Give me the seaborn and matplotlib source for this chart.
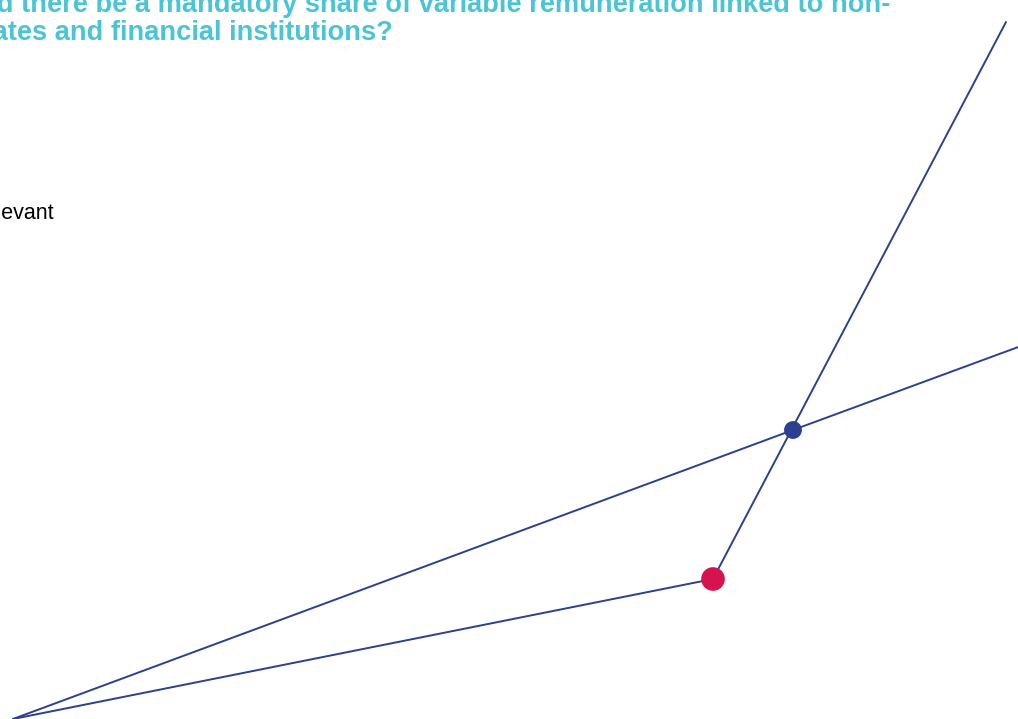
import matplotlib
matplotlib.use("Agg")
import matplotlib.pyplot as plt
import seaborn as sns
import pandas as pd

sns.set_theme(style="white")
plt.rcParams['font.family'] = ['Liberation Sans', 'DejaVu Sans']

series_a_x = [13, 713, 1006]
series_a_y = [719, 579, 22]
series_b_x = [13, 793, 1040]
series_b_y = [719, 430, 339]
highlight_a = (713, 579)
highlight_b = (793, 430)

title_lines = ["Should there be a mandatory share of variable remuneration linked to non-",
               "corporates and financial institutions?"]
title_hidden = ["Shoul", "corpor"]
title_visible_x = [-3, -7]
title_baselines = [12, 40]
label_text = "Relevant"

LINE = "#2B4190"
RED = "#D6134F"
TEAL = "#4BC4D4"

fig = plt.figure(figsize=(10.18, 7.19), dpi=100)
ax = fig.add_axes([0, 0, 1, 1])

df_a = pd.DataFrame({"x": series_a_x, "y": series_a_y})
df_b = pd.DataFrame({"x": series_b_x, "y": series_b_y})
sns.lineplot(data=df_a, x="x", y="y", sort=False, color=LINE, lw=1.4, ax=ax)
sns.lineplot(data=df_b, x="x", y="y", sort=False, color=LINE, lw=1.4, ax=ax)
sns.scatterplot(x=[highlight_a[0]], y=[highlight_a[1]], s=290, color=RED, edgecolor="none", ax=ax, zorder=5)
sns.scatterplot(x=[highlight_b[0]], y=[highlight_b[1]], s=165, color=LINE, edgecolor="none", ax=ax, zorder=5)

ax.set_xlim(0, 1018)
ax.set_ylim(719, 0)
ax.set_axis_off()

TFS = 19.6
renderer = fig.canvas.get_renderer()

def text_width(s, **kw):
    t = ax.text(0, 0, s, **kw)
    w = t.get_window_extent(renderer).width
    t.remove()
    return w

for line, hidden, vx, by in zip(title_lines, title_hidden, title_visible_x, title_baselines):
    w = text_width(hidden, fontsize=TFS, fontweight="bold")
    ax.text(vx - w, by, line, fontsize=TFS, fontweight="bold", color=TEAL,
            va="baseline", ha="left")

w2 = text_width("Rel", fontsize=15.5)
ax.text(-w2 + 1, 219, label_text, fontsize=15.5, color="black", va="baseline", ha="left")

fig.savefig("out.png", dpi=100)
